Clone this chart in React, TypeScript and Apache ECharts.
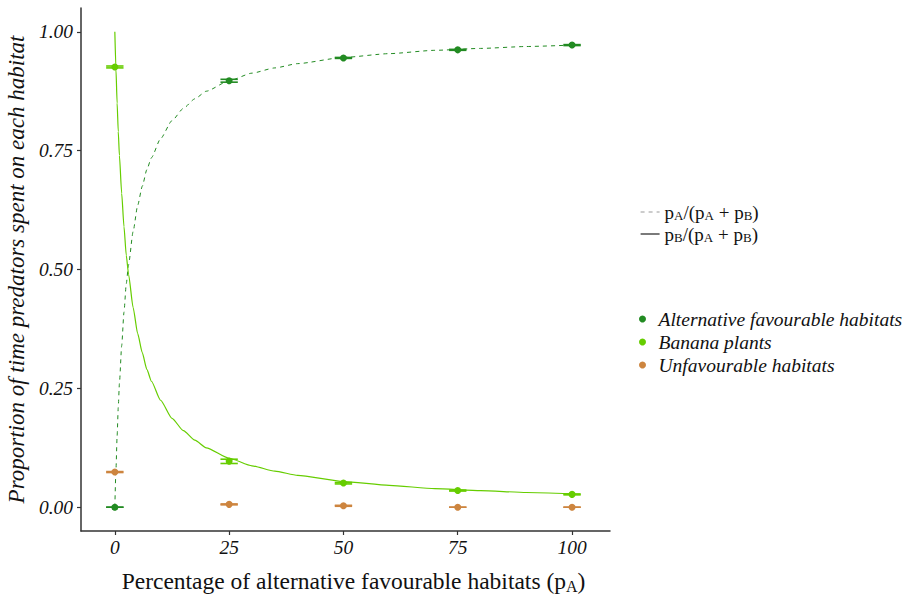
import React, { useEffect, useRef } from "react";
import * as echarts from "echarts";

// Observed points (mean, lower, upper) at each percentage of alternative habitats
const xPoints = [0, 25, 50, 75, 100];
const altMean = [0.0, 0.897, 0.945, 0.962, 0.972];
const altLow = [0.0, 0.894, 0.944, 0.961, 0.971];
const altHigh = [0.0, 0.9, 0.946, 0.963, 0.973];
const banMean = [0.926, 0.097, 0.051, 0.035, 0.027];
const banLow = [0.924, 0.092, 0.049, 0.034, 0.026];
const banHigh = [0.928, 0.101, 0.052, 0.036, 0.028];
const unfMean = [0.074, 0.006, 0.003, 0.0, 0.0];
const unfLow = [0.073, 0.005, 0.002, 0.0, 0.0];
const unfHigh = [0.075, 0.007, 0.004, 0.0, 0.0];

// Fitted curves
const curveX = [0, 0.25, 0.5, 0.75, 1, 1.5, 2, 2.5, 3, 4, 5, 6, 7, 8, 10, 12.5, 15, 17.5, 20, 25, 30, 35, 40, 50, 60, 70, 80, 90, 100];
const curveA = [0, 0.08, 0.15, 0.21, 0.26, 0.34, 0.41, 0.47, 0.51, 0.58, 0.635, 0.675, 0.71, 0.735, 0.775, 0.813, 0.839, 0.859, 0.875, 0.897, 0.913, 0.924, 0.933, 0.946, 0.954, 0.961, 0.965, 0.969, 0.972];
const curveB = [1, 0.92, 0.85, 0.79, 0.74, 0.66, 0.59, 0.53, 0.49, 0.42, 0.365, 0.325, 0.29, 0.265, 0.225, 0.187, 0.161, 0.141, 0.125, 0.103, 0.087, 0.076, 0.067, 0.054, 0.046, 0.039, 0.035, 0.031, 0.028];

const xTicks = [0, 25, 50, 75, 100];
const yTicks = [0, 0.25, 0.5, 0.75, 1];

const nameA = "pA/(pA + pB)";
const nameB = "pB/(pA + pB)";
const habitatNames = ["Alternative favourable habitats", "Banana plants", "Unfavourable habitats"];
const habitatColors = ["#228B22", "#66CD00", "#CD853F"];

const FONT = "'Liberation Serif', 'Times New Roman', 'DejaVu Serif', serif";
const CAP = 1.9;

export default function App() {
  const ref = useRef<HTMLDivElement>(null);
  useEffect(() => {
    if (!ref.current) return;
    const chart = echarts.init(ref.current, undefined, { renderer: "svg" });
    const means = [altMean, banMean, unfMean];
    const lows = [altLow, banLow, unfLow];
    const highs = [altHigh, banHigh, unfHigh];

    const scatterSeries = habitatNames.map((n, k) => ({
      type: "scatter",
      name: n,
      symbol: "circle",
      symbolSize: 7,
      z: 5,
      itemStyle: { color: habitatColors[k], opacity: 1 },
      data: xPoints.map((x, i) => [x, means[k][i]]),
    }));
    const errSeries = habitatNames.map((n, k) => ({
      type: "custom",
      name: n,
      z: 4,
      itemStyle: { color: habitatColors[k] },
      data: xPoints.map((x, i) => [x, means[k][i], lows[k][i], highs[k][i]]),
      renderItem: (params: any, api: any) => {
        const x = api.value(0);
        const lo = api.value(2);
        const hi = api.value(3);
        const pLo = api.coord([x, lo]);
        const pHi = api.coord([x, hi]);
        const l1 = api.coord([x - CAP, lo]);
        const r1 = api.coord([x + CAP, lo]);
        const l2 = api.coord([x - CAP, hi]);
        const r2 = api.coord([x + CAP, hi]);
        const style = { stroke: habitatColors[k], lineWidth: 1.6 };
        return {
          type: "group",
          children: [
            { type: "line", shape: { x1: pLo[0], y1: pLo[1], x2: pHi[0], y2: pHi[1] }, style },
            { type: "line", shape: { x1: l1[0], y1: l1[1], x2: r1[0], y2: r1[1] }, style },
            { type: "line", shape: { x1: l2[0], y1: l2[1], x2: r2[0], y2: r2[1] }, style },
          ],
        };
      },
    }));

    const richSub = {
      s: { fontSize: 13, lineHeight: 13, fontFamily: FONT, color: "#111", padding: [7, 0, 0, 0] },
    };

    chart.setOption({
      animation: false,
      backgroundColor: "#ffffff",
      grid: { left: 81, right: 300, top: 8, bottom: 66, containLabel: false, outerBoundsMode: "none" },
      xAxis: {
        type: "value",
        min: -7.4,
        max: 108.3,
        name: "Percentage of alternative favourable habitats (p{s|A})",
        nameLocation: "middle",
        nameGap: 37,
        nameTextStyle: {
          fontFamily: FONT,
          fontSize: 23.5,
          color: "#111",
          padding: [0, 0, 0, 16],
          rich: { s: { fontSize: 16, fontFamily: FONT, color: "#111", padding: [10, 0, 0, 0] } },
        },
        axisLine: { show: true, onZero: false, lineStyle: { color: "#333", width: 1.5 } },
        axisTick: { show: true, length: 4, customValues: xTicks, lineStyle: { color: "#333", width: 1.2 } },
        axisLabel: {
          customValues: xTicks,
          margin: 6,
          fontFamily: FONT,
          fontStyle: "italic",
          fontSize: 19.5,
          color: "#111",
        },
        splitLine: { show: false },
      },
      yAxis: {
        type: "value",
        min: -0.05,
        max: 1.05,
        name: "Proportion of time predators spent on each habitat",
        nameLocation: "middle",
        nameGap: 50,
        nameRotate: 90,
        nameTextStyle: { fontFamily: FONT, fontStyle: "italic", fontSize: 23, color: "#111" },
        axisLine: { show: true, onZero: false, lineStyle: { color: "#333", width: 1.5 } },
        axisTick: { show: true, length: 4, customValues: yTicks, lineStyle: { color: "#333", width: 1.2 } },
        axisLabel: {
          customValues: yTicks,
          margin: 8,
          fontFamily: FONT,
          fontStyle: "italic",
          fontSize: 19.5,
          color: "#111",
          formatter: (v: number) => v.toFixed(2),
        },
        splitLine: { show: false },
      },
      legend: [
        {
          orient: "vertical",
          left: 635,
          top: 197,
          itemWidth: 19,
          itemHeight: 12,
          itemGap: 2,
          data: [
            { name: nameA, lineStyle: { color: "#999", type: [4, 4], width: 1 }, itemStyle: { opacity: 0 } },
            { name: nameB, lineStyle: { color: "#222", type: "solid", width: 1.2 }, itemStyle: { opacity: 0 } },
          ],
          formatter: (n: string) => (n === nameA ? "p{s|A}/(p{s|A} + p{s|B})" : "p{s|B}/(p{s|A} + p{s|B})"),
          textStyle: { fontFamily: FONT, fontSize: 19, color: "#111", lineHeight: 20, rich: richSub },
        },
        {
          orient: "vertical",
          left: 634,
          top: 304,
          itemWidth: 22,
          itemHeight: 7,
          itemGap: 3,
          icon: "circle",
          data: habitatNames,
          textStyle: { fontFamily: FONT, fontStyle: "italic", fontSize: 19.5, color: "#111", lineHeight: 20 },
        },
      ],
      series: [
        {
          type: "line",
          name: nameA,
          data: curveX.map((x, i) => [x, curveA[i]]),
          symbol: "none",
          smooth: 0.2,
          smoothMonotone: "x",
          lineStyle: { color: "#228B22", width: 1, type: [4, 4] },
          itemStyle: { color: "#228B22" },
          z: 2,
        },
        {
          type: "line",
          name: nameB,
          data: curveX.map((x, i) => [x, curveB[i]]),
          symbol: "none",
          smooth: 0.2,
          smoothMonotone: "x",
          lineStyle: { color: "#66CD00", width: 1.2 },
          itemStyle: { color: "#66CD00" },
          z: 2,
        },
        ...scatterSeries,
        ...errSeries,
      ],
    });
    return () => chart.dispose();
  }, []);
  return (
    <div
      ref={ref}
      style={{ position: "fixed", left: 0, top: 0, width: 910, height: 597, background: "#fff" }}
    />
  );
}
